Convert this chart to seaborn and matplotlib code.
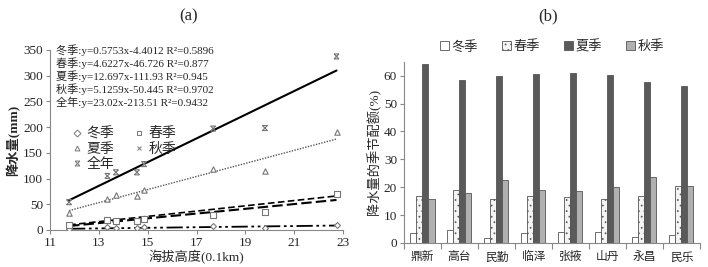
import numpy as np
import pandas as pd
import seaborn as sns
import matplotlib.pyplot as plt
from matplotlib.path import Path
from matplotlib.lines import Line2D

# ---- data: (a) elevation vs precipitation ----
elev = [11.78, 13.35, 13.7, 14.56, 14.85, 17.68, 19.8, 22.73]
winter_mm = [2, 5, 3, 3, 5, 7, 4, 9]
spring_mm = [10, 20, 18, 18, 22, 30, 34, 69]
summer_mm = [33, 60, 67, 66, 77, 118, 114, 190]
autumn_mm = [8, 18, 25, 20, 22, 38, 45, 67]
annual_mm = [54, 105, 112, 112, 128, 197, 198, 337]

seasons = ['冬季', '春季', '夏季', '秋季', '全年']
slopes = [0.5753, 4.6227, 12.697, 5.1259, 23.02]
intercepts = [-4.4012, -46.726, -111.93, -50.445, -213.51]
eq_text = ['冬季:y=0.5753x-4.4012 R²=0.5896',
           '春季:y=4.6227x-46.726 R²=0.877',
           '夏季:y=12.697x-111.93 R²=0.945',
           '秋季:y=5.1259x-50.445 R²=0.9702',
           '全年:y=23.02x-213.51 R²=0.9432']

# ---- data: (b) seasonal share per station ----
stations = ['鼎新', '高台', '民勤', '临泽', '张掖', '山丹', '永昌', '民乐']
winter_pct = [3.5, 4.5, 1.7, 3.7, 3.8, 3.8, 2.0, 2.9]
spring_pct = [16.8, 18.9, 15.8, 16.7, 16.5, 15.8, 16.7, 20.3]
summer_pct = [64.0, 58.6, 59.8, 60.6, 60.9, 60.2, 57.9, 56.2]
autumn_pct = [15.6, 17.8, 22.7, 19.0, 18.8, 20.0, 23.5, 20.5]

sns.set_style("ticks")
plt.rcParams['font.family'] = ['Liberation Serif', 'Noto Sans CJK SC']
plt.rcParams['axes.linewidth'] = 0.8
plt.rcParams['axes.edgecolor'] = '#888888'
plt.rcParams['hatch.color'] = '#aaaaaa'
plt.rcParams['hatch.linewidth'] = 0.5

fig = plt.figure(figsize=(7.08, 2.67), dpi=100)
ax1 = fig.add_axes([0.0706, 0.1386, 0.414, 0.675])
ax2 = fig.add_axes([0.5706, 0.0899, 0.418, 0.679])

# custom "x with bars" marker for annual
star = Path([(-1, 1), (1, -1), (-1, -1), (1, 1), (-1, 1), (1, 1), (-1, -1), (1, -1)],
            [Path.MOVETO, Path.LINETO, Path.MOVETO, Path.LINETO,
             Path.MOVETO, Path.LINETO, Path.MOVETO, Path.LINETO])

df = pd.DataFrame({'elev': elev, '冬季': winter_mm, '春季': spring_mm,
                   '夏季': summer_mm, '秋季': autumn_mm, '全年': annual_mm})
markers = {'冬季': 'D', '春季': 's', '夏季': '^', '秋季': 'x', '全年': star}
msize = {'冬季': 9, '春季': 13, '夏季': 15, '秋季': 14, '全年': 13}
styles = {'冬季': (0, (9, 2, 1.5, 2, 1.5, 2)), '春季': (0, (5, 2)),
          '夏季': (0, (1, 1)), '秋季': (0, (4, 2)), '全年': '-'}
widths = {'冬季': 1.3, '春季': 1.5, '夏季': 1.0, '秋季': 1.2, '全年': 1.5}
lcol = {'冬季': 'black', '春季': 'black', '夏季': '#555555', '秋季': 'black', '全年': 'black'}

xfit = np.array([min(elev), max(elev)])
for s, a, b in zip(seasons, slopes, intercepts):
    sns.lineplot(x=xfit, y=a * xfit + b, ax=ax1, color=lcol[s],
                 linestyle=styles[s], linewidth=widths[s])
for s in seasons:
    if s in ('秋季', '全年'):
        sns.scatterplot(data=df, x='elev', y=s, ax=ax1, marker=markers[s], s=msize[s],
                        facecolor='none', edgecolor='#777777', linewidth=0.8, zorder=3)
    else:
        sns.scatterplot(data=df, x='elev', y=s, ax=ax1, marker=markers[s], s=msize[s],
                        facecolor='white', edgecolor='#777777', linewidth=0.8, zorder=3)

ax1.set_xlim(11, 23)
ax1.set_ylim(0, 350)
ax1.set_xticks(range(11, 24, 2))
ax1.set_yticks(range(0, 351, 50))
ax1.set_xlabel('海拔高度(0.1km)', fontsize=9.5, labelpad=1)
ax1.set_ylabel('降水量(mm)', fontsize=9.5, fontweight='bold', labelpad=2)
ax1.tick_params(labelsize=9.5, length=3, width=0.8, color='#888888', pad=2)
sns.despine(ax=ax1)

for i, t in enumerate(eq_text):
    ax1.text(0.02, 1.0 - i * 0.073, t, transform=ax1.transAxes, fontsize=8,
             va='center', ha='left')

order = ['冬季', '夏季', '全年', '春季', '秋季']
handles = []
for s in order:
    if s in ('秋季', '全年'):
        h = Line2D([], [], marker=markers[s], linestyle='none', color='#777777',
                   markerfacecolor='none', markersize=3.5, markeredgewidth=0.7)
    else:
        h = Line2D([], [], marker=markers[s], linestyle='none', markerfacecolor='white',
                   markeredgecolor='#777777', markersize=3.5, markeredgewidth=0.7)
    handles.append(h)
ax1.legend(handles, order, ncol=2, frameon=False, fontsize=10,
           loc='upper left', bbox_to_anchor=(0.02, 0.64), handletextpad=0.1,
           columnspacing=1.2, labelspacing=0.15, handlelength=1.2)

# ---- (b) grouped bars ----
bar_names = ['冬季', '春季', '夏季', '秋季']
long = pd.DataFrame({'station': stations * 4,
                     'season': np.repeat(bar_names, len(stations)),
                     'pct': winter_pct + spring_pct + summer_pct + autumn_pct})
pal = {'冬季': 'white', '春季': '#f4f4f4', '夏季': '#5a5a5a', '秋季': '#b0b0b0'}
sns.barplot(data=long, x='station', y='pct', hue='season', palette=pal,
            ax=ax2, width=0.65, edgecolor='#555555', linewidth=0.6, errorbar=None)
for p in ax2.containers[1]:
    p.set_hatch('...')
for c in ax2.containers:
    for p in c:
        p.set_edgecolor('#555555')

ax2.set_ylim(0, 65)
ax2.set_xlim(-0.5, 7.5)
ax2.set_yticks(range(0, 61, 10))
ax2.set_xticks(np.arange(-0.5, 8, 1), minor=True)
ax2.tick_params(axis='x', which='major', length=0, labelsize=8.5, pad=6)
ax2.tick_params(axis='x', which='minor', length=4, width=0.8, color='#888888')
ax2.tick_params(axis='y', labelsize=9.5, length=3, width=0.8, color='#888888', pad=2)
ax2.set_xlabel('')
ax2.set_ylabel('降水量的季节配额(%)', fontsize=9.5, labelpad=2)
sns.despine(ax=ax2)
bar_handles = [c.patches[0] for c in ax2.containers]
ax2.legend(bar_handles, bar_names, ncol=4, frameon=False, fontsize=9.5, loc='lower center',
           bbox_to_anchor=(0.5, 0.98), handlelength=0.7, handleheight=0.7,
           handletextpad=0.2, columnspacing=1.8)

fig.text(0.266, 0.94, '(a)', fontsize=12, ha='center', va='center')
fig.text(0.774, 0.94, '(b)', fontsize=12, ha='center', va='center')

plt.savefig('out.png', dpi=100)
